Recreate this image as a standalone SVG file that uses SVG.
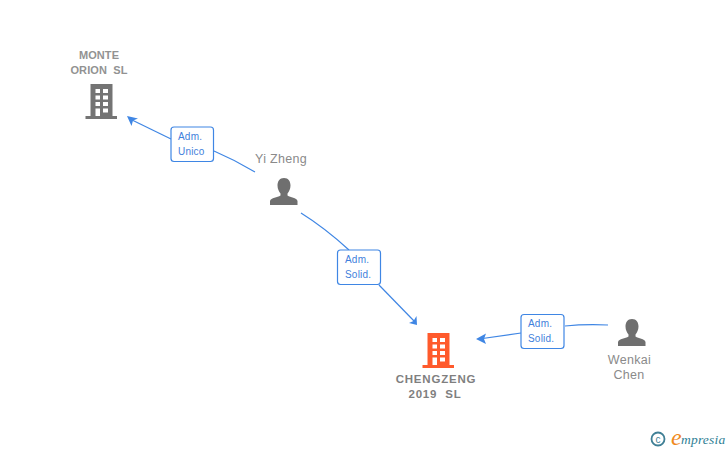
<svg xmlns="http://www.w3.org/2000/svg" width="728" height="450" viewBox="0 0 728 450">
<style>
text{font-family:"Liberation Sans",Arial,sans-serif}
.n{font-size:12.5px;fill:#8a8a8a;text-anchor:middle;letter-spacing:.3px}
.b{font-size:11.5px;font-weight:bold;fill:#7f7f7f;text-anchor:middle;letter-spacing:.8px;white-space:pre}
.m{font-size:11px;font-weight:bold;fill:#929292;text-anchor:middle;letter-spacing:.1px;white-space:pre}
.l{font-size:10px;fill:#3f7fdc;letter-spacing:.2px}
.box{fill:#fff;stroke:#3f86e4;stroke-width:1.2}
.c{fill:none;stroke:#3f86e4;stroke-width:1.2}
.a{fill:#3f86e4}
.w{fill:#fff}
</style>
<defs>
<g id="bld">
<path d="M5.500 0H27.500V32H5.500Z"/><rect x="0.500" y="32" width="31.500" height="3"/>
<g class="w">
<rect x="10.500" y="5" width="4.500" height="4"/><rect x="18" y="5" width="5" height="4"/>
<rect x="10.500" y="11.500" width="4.500" height="4"/><rect x="18" y="11.500" width="5" height="4"/>
<rect x="10.500" y="18" width="4.500" height="4"/><rect x="18" y="18" width="5" height="4"/>
<rect x="10.500" y="24.500" width="4.500" height="7.500"/><rect x="18" y="24.500" width="5" height="4"/>
</g>
</g>
<path id="per" d="M14 0C18.500 0 20.500 3.500 20.500 7.500C20.500 11 19 13.500 17.500 15.500V17.500C20.500 19.500 26.500 19.500 27.500 23V27H0V23C1 19.500 7.500 19.500 10.500 17.500V15.500C9 13.500 7.500 11 7.500 7.500C7.500 3.500 9.500 0 14 0Z"/>
</defs>
<g id="connectors">
<path class="c" d="M255 172Q235 160 214 151"/>
<path class="c" d="M171 139L130 119"/>
<path class="a" d="M127 116L138 118.500L133 120.500L131.500 126Z"/>
<path class="c" d="M301 213Q325 228 349 250"/>
<path class="c" d="M379 285L415 322"/>
<path class="a" d="M417 325L409 323L413.500 321L416.500 316Z"/>
<path class="c" d="M608 325Q585 324 565 326"/>
<path class="c" d="M521 333L479 339"/>
<path class="a" d="M476 339L486 333.500L484 339L486 344Z"/>
</g>
<g id="label-unico">
<rect class="box" x="171" y="127" width="42.500" height="34.500" rx="3"/>
<text class="l" x="178" y="140">Adm.</text><text class="l" x="178" y="155">Unico</text>
</g>
<g id="label-solid-1">
<rect class="box" x="337.500" y="250" width="43" height="34.500" rx="3"/>
<text class="l" x="345" y="263">Adm.</text><text class="l" x="345" y="278">Solid.</text>
</g>
<g id="label-solid-2">
<rect class="box" x="521" y="314.500" width="43" height="34" rx="3"/>
<text class="l" x="528" y="327">Adm.</text><text class="l" x="528" y="342">Solid.</text>
</g>
<g id="monte-orion">
<text class="m" x="99" y="59">MONTE</text><text class="m" x="99" y="74">ORION  SL</text>
<use href="#bld" x="85" y="84" fill="#747474"/>
</g>
<g id="yi-zheng">
<text class="n" x="281" y="163">Yi Zheng</text>
<use href="#per" x="270" y="178" fill="#6f6f6f"/>
</g>
<g id="chengzeng">
<use href="#bld" x="422" y="333" fill="#ff5a2c"/>
<text class="b" x="436" y="383">CHENGZENG</text>
<text class="b" x="435" y="398">2019  SL</text>
</g>
<g id="wenkai-chen">
<use href="#per" x="618" y="319" fill="#6f6f6f"/>
<text class="n" x="629.500" y="364">Wenkai</text><text class="n" x="629" y="379">Chen</text>
</g>
<g id="logo">
<circle cx="658" cy="439" r="6.500" fill="none" stroke="#3f7f95" stroke-width="1.800"/>
<text x="658" y="442.500" font-size="10" fill="#3f7f95" text-anchor="middle">c</text>
<text x="671" y="445" font-size="24" font-style="italic" fill="#f08a1d" style="font-family:'Liberation Serif',serif">e</text>
<text x="681" y="444" font-size="13.500" font-style="italic" fill="#2f7f95" style="font-family:'Liberation Serif',serif" letter-spacing=".2">mpresia</text>
</g>
</svg>
